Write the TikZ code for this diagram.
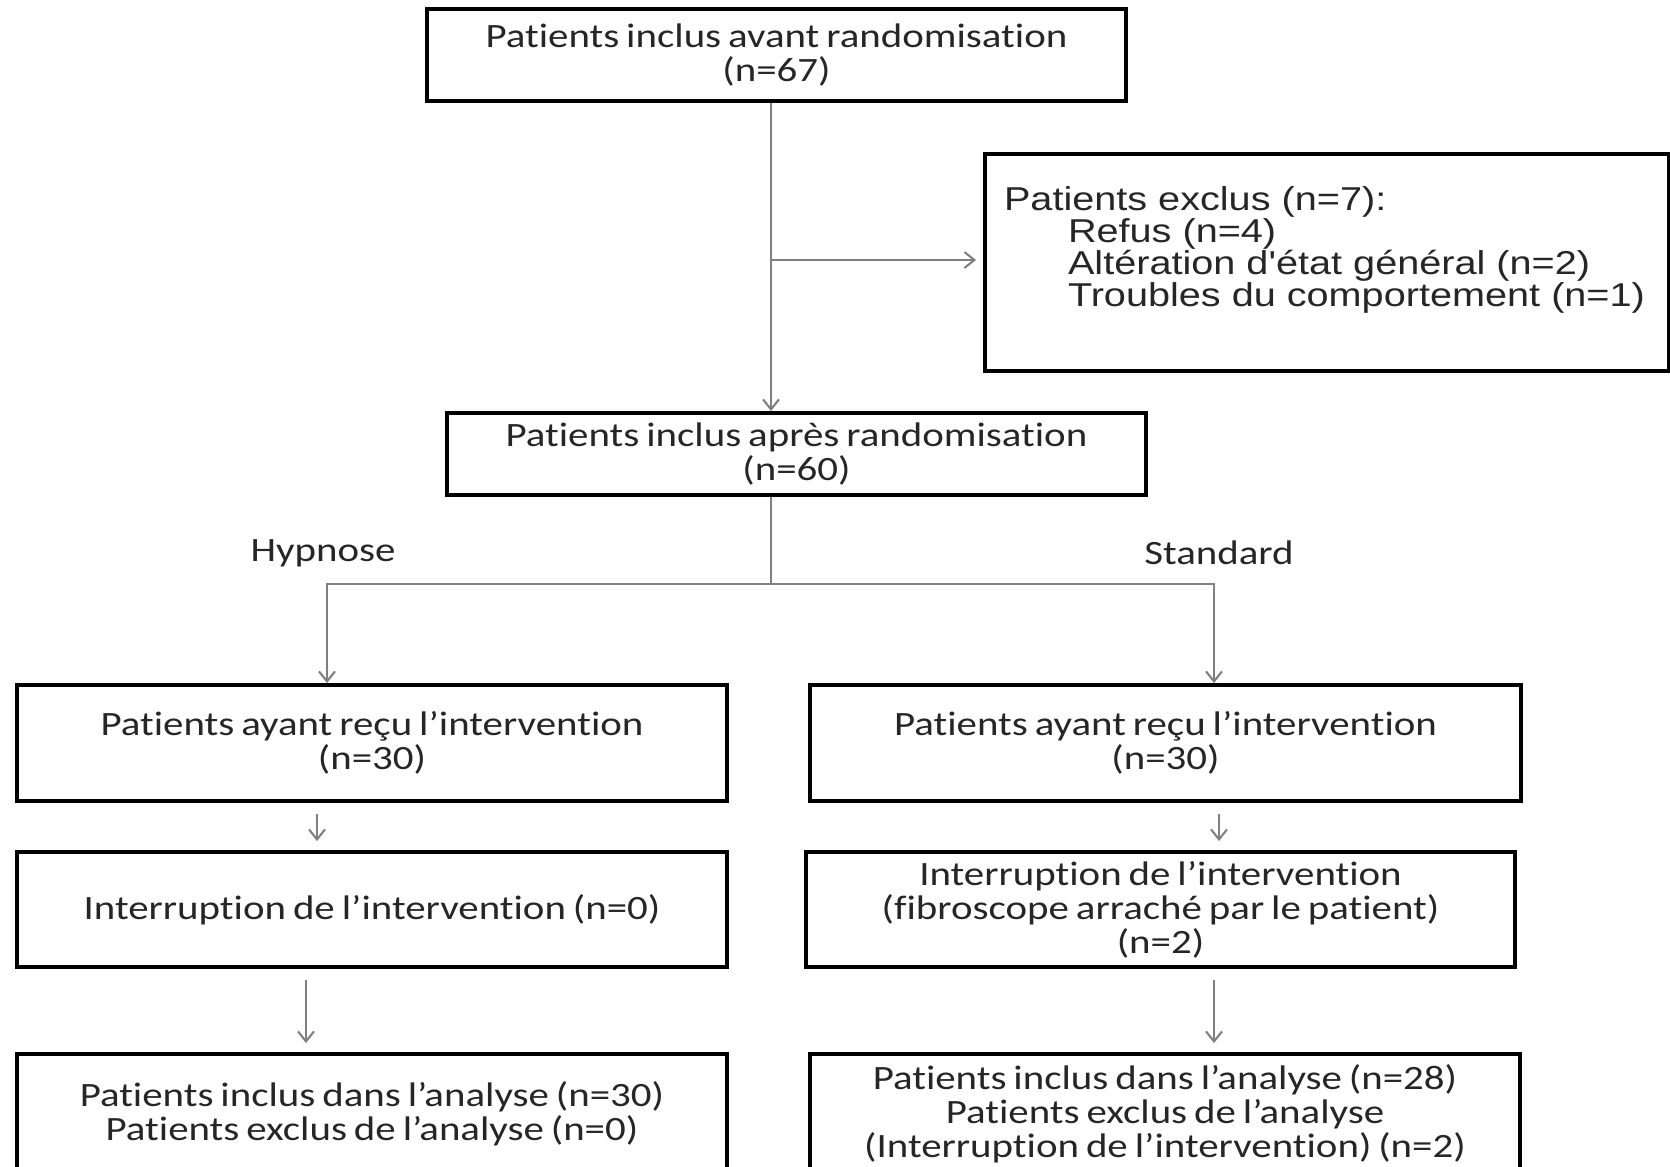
\documentclass[tikz,border=0pt]{standalone}
\usepackage{fontspec}
\newfontfamily\calib[FakeStretch=1.2,WordSpace=0.75,Ligatures=NoCommon]{Carlito}
\newfontfamily\arial[FakeStretch=1.2]{Liberation Sans}
\usetikzlibrary{positioning,arrows.meta}

\begin{document}
\begin{tikzpicture}[x=1mm,y=-1mm,
	every node/.style={draw,line width=1.1pt,align=center,inner sep=0pt,text=black!85,
		font=\calib\fontsize{9.7}{9.7}\selectfont},
	label/.style={draw=none},
	link/.style={draw=black!50,line width=0.6pt,-{Straight Barb[length=1mm,width=1.6mm]}},
	linkline/.style={draw=black!50,line width=0.6pt}]
\clip (0,0) rectangle (167,116.6);

\node[minimum width=69.9mm,minimum height=9.2mm] (avant) at (77.65,5.5) {Patients inclus avant randomisation\\(n=67)};
\node[minimum height=21.7mm,text width=64.6mm,inner xsep=1.9mm,align=left,
	font=\arial\fontsize{9.4}{9.1}\selectfont] (exclus) at (132.7,26.25)
	{Patients exclus (n=7):\\
	\hspace*{6.4mm}Refus (n=4)\\
	\hspace*{6.4mm}Altération d'état général (n=2)\\
	\hspace*{6.4mm}Troubles du comportement (n=1)\\ \mbox{}};
\node[minimum width=69.9mm,minimum height=8.2mm] (apres) at (79.65,45.4) {Patients inclus après randomisation\\(n=60)};

\node[label] (hypnose) at (32.3,55.3) {Hypnose};
\node[label] (standard) at (121.9,55.3) {Standard};

% bras hypnose
\node[minimum width=71mm,minimum height=11.6mm] (recuH) at (37.2,74.3) {Patients ayant reçu l’intervention\\(n=30)};
\node[minimum width=71mm,minimum height=11.5mm] (interH) at (37.2,90.95) {Interruption de l’intervention (n=0)};
\node[minimum width=71mm,minimum height=12mm] (analH) at (37.2,111.4) {Patients inclus dans l’analyse (n=30)\\Patients exclus de l’analyse (n=0)};

% bras standard
\node[minimum width=71.1mm,minimum height=11.6mm] (recuS) at (116.55,74.3) {Patients ayant reçu l’intervention\\(n=30)};
\node[minimum width=70.9mm,minimum height=11.5mm] (interS) at (116.05,90.95) {Interruption de l’intervention\\(fibroscope arraché par le patient)\\(n=2)};
\node[minimum width=71mm,minimum height=12mm] (analS) at (116.5,111.4) {Patients inclus dans l’analyse (n=28)\\Patients exclus de l’analyse\\(Interruption de l’intervention) (n=2)};

\coordinate (split) at (77.1,26);
\coordinate (fork) at (77.1,58.4);

\draw[link] (avant.south -| split) -- (apres.north -| split);
\draw[link,shorten >=0.7mm] (split) -- (exclus.west |- split);
\draw[linkline] (apres.south -| fork) -- (fork);
\draw[link] (fork) -| ([xshift=-4.5mm]recuH.north);
\draw[link] (fork) -| ([xshift=4.85mm]recuS.north);

\foreach \a/\b/\dx in {recuH/interH/-5.5,recuS/interS/5.35,interH/analH/-6.6,interS/analS/5.35}
	\draw[link,shorten <=1.1mm,shorten >=0.9mm] ([xshift=\dx mm]\a.south) -- ([xshift=\dx mm]\a.south |- \b.north);
\end{tikzpicture}
\end{document}
